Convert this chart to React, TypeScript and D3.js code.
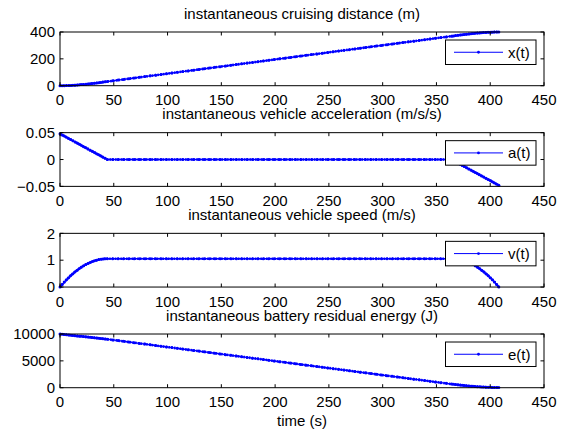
import React from 'react';
import * as d3 from 'd3';

// sample times (s): dense while accelerating / braking, sparser while cruising
const time = [
  0, 2, 4, 6, 8, 10, 12, 14, 16, 18, 20, 22, 24, 26, 28, 30, 32, 34, 36, 38, 40, 42, 44,
  49, 54, 59, 64, 69, 74, 79, 84, 89, 94, 99, 104, 109, 114, 119, 124, 129, 134, 139, 144,
  149, 154, 159, 164, 169, 174, 179, 184, 189, 194, 199, 204, 209, 214, 219, 224, 229, 234,
  239, 244, 249, 254, 259, 264, 269, 274, 279, 284, 289, 294, 299, 304, 309, 314, 319, 324,
  329, 334, 339, 344, 349, 354, 359,
  364, 366, 368, 370, 372, 374, 376, 378, 380, 382, 384, 386, 388, 390, 392, 394, 396, 398,
  400, 402, 404, 406, 408,
];

const distance = [
  0, 0.09, 0.37, 0.82, 1.44, 2.22, 3.14, 4.21, 5.4, 6.72, 8.15, 9.68, 11.31, 13.03, 14.82,
  16.69, 18.62, 20.6, 22.62, 24.68, 26.76, 28.87, 30.98,
  36.26, 41.54, 46.82, 52.1, 57.38, 62.66, 67.94, 73.22, 78.5, 83.78, 89.06, 94.34, 99.62,
  104.9, 110.18, 115.46, 120.74, 126.02, 131.3, 136.58, 141.86, 147.14, 152.42, 157.7,
  162.98, 168.26, 173.54, 178.82, 184.1, 189.38, 194.66, 199.94, 205.22, 210.5, 215.78,
  221.06, 226.34, 231.62, 236.9, 242.18, 247.46, 252.74, 258.02, 263.3, 268.58, 273.86,
  279.14, 284.42, 289.7, 294.98, 300.26, 305.54, 310.82, 316.1, 321.38, 326.66, 331.94,
  337.22, 342.5, 347.78, 353.06, 358.34, 363.62,
  368.9, 371.01, 373.11, 375.2, 377.25, 379.28, 381.26, 383.19, 385.05, 386.85, 388.57,
  390.2, 391.73, 393.16, 394.48, 395.67, 396.73, 397.66, 398.43, 399.05, 399.5, 399.78, 399.88,
];

const acceleration = [
  0.048, 0.04582, 0.04364, 0.04145, 0.03927, 0.03709, 0.03491, 0.03273, 0.03055, 0.02836,
  0.02618, 0.024, 0.02182, 0.01964, 0.01745, 0.01527, 0.01309, 0.01091, 0.00873, 0.00655,
  0.00436, 0.00218, 0,
  0, 0, 0, 0, 0, 0, 0, 0, 0, 0, 0, 0, 0, 0, 0, 0, 0, 0, 0, 0, 0,
  0, 0, 0, 0, 0, 0, 0, 0, 0, 0, 0, 0, 0, 0, 0, 0, 0, 0, 0, 0, 0,
  0, 0, 0, 0, 0, 0, 0, 0, 0, 0, 0, 0, 0, 0, 0, 0, 0, 0, 0, 0, 0,
  0, -0.00218, -0.00436, -0.00655, -0.00873, -0.01091, -0.01309, -0.01527, -0.01745,
  -0.01964, -0.02182, -0.024, -0.02618, -0.02836, -0.03055, -0.03273, -0.03491, -0.03709,
  -0.03927, -0.04145, -0.04364, -0.04582, -0.048,
];

const speed = [
  0, 0.0938, 0.1833, 0.2684, 0.3491, 0.4255, 0.4975, 0.5651, 0.6284, 0.6873, 0.7418, 0.792,
  0.8378, 0.8793, 0.9164, 0.9491, 0.9775, 1.0015, 1.0211, 1.0364, 1.0473, 1.0538, 1.056,
  1.056, 1.056, 1.056, 1.056, 1.056, 1.056, 1.056, 1.056, 1.056, 1.056, 1.056, 1.056, 1.056,
  1.056, 1.056, 1.056, 1.056, 1.056, 1.056, 1.056, 1.056, 1.056, 1.056, 1.056, 1.056, 1.056,
  1.056, 1.056, 1.056, 1.056, 1.056, 1.056, 1.056, 1.056, 1.056, 1.056, 1.056, 1.056, 1.056,
  1.056, 1.056, 1.056, 1.056, 1.056, 1.056, 1.056, 1.056, 1.056, 1.056, 1.056, 1.056, 1.056,
  1.056, 1.056, 1.056, 1.056, 1.056, 1.056, 1.056, 1.056, 1.056, 1.056, 1.056,
  1.056, 1.0538, 1.0473, 1.0364, 1.0211, 1.0015, 0.9775, 0.9491, 0.9164, 0.8793, 0.8378,
  0.792, 0.7418, 0.6873, 0.6284, 0.5651, 0.4975, 0.4255, 0.3491, 0.2684, 0.1833, 0.0938, 0,
];

const energy = [
  10000, 9956, 9912, 9868, 9824, 9780, 9736, 9692, 9648, 9604, 9560, 9516, 9472, 9428, 9384,
  9340, 9296, 9252, 9208, 9164, 9120, 9076, 9032,
  8901, 8771, 8640, 8510, 8379, 8249, 8118, 7988, 7857, 7727, 7596, 7466, 7335, 7205, 7074,
  6944, 6813, 6683, 6552, 6422, 6291, 6161, 6030, 5900, 5769, 5639, 5508, 5378, 5247, 5117,
  4986, 4856, 4725, 4595, 4464, 4334, 4203, 4073, 3942, 3812, 3681, 3551, 3420, 3290, 3159,
  3029, 2898, 2768, 2637, 2507, 2376, 2246, 2115, 1985, 1854, 1724, 1593, 1463, 1332, 1202,
  1071, 941, 810,
  680, 629, 580, 532, 487, 444, 403, 364, 327, 292, 258, 227, 198, 171, 146, 123, 102, 83,
  66, 51, 38, 27, 18,
];

const titles = [
  'instantaneous cruising distance (m)',
  'instantaneous vehicle acceleration (m/s/s)',
  'instantaneous vehicle speed (m/s)',
  'instantaneous battery residual energy (J)',
];
const legendLabels = ['x(t)', 'a(t)', 'v(t)', 'e(t)'];
const series = [distance, acceleration, speed, energy];
const yDomains = [[0, 400], [-0.05, 0.05], [0, 2], [0, 10000]];
const yTicks = [[0, 200, 400], [-0.05, 0, 0.05], [0, 1, 2], [0, 5000, 10000]];
const yTickLabels = [['0', '200', '400'], ['\u22120.05', '0', '0.05'], ['0', '1', '2'], ['0', '5000', '10000']];
const xTicks = [0, 50, 100, 150, 200, 250, 300, 350, 400, 450];

const W = 575;
const H = 437;
const FONT = '"Liberation Sans", Arial, Helvetica, sans-serif';
const BLUE = '#0000ff';

export default function App() {
  const left = 60;
  const right = 544;
  const panelH = 53.7;
  const panelStep = 100.67;
  const tickLen = 3.5;

  const x = d3.scaleLinear().domain([0, 450]).range([left, right]);

  return (
    <svg width={W} height={H} style={{ position: 'absolute', left: 0, top: 0, background: '#fff' }}
      fontFamily={FONT}>
      <rect width={W} height={H} fill="#fff" />
      {series.map((values, k) => {
        const top = 32 + k * panelStep;
        const bottom = top + panelH;
        const y = d3.scaleLinear().domain(yDomains[k]).range([bottom, top]);
        const line = d3.line<number>()
          .x((_, i) => x(time[i]))
          .y(d => y(d));
        const path = line(values) || '';
        const lgX = 445.5;
        const lgY = top + 8;
        const lgW = 90.5;
        const lgH = 24.5;
        return (
          <g key={k}>
            {/* data: thin line + dotted '.' markers */}
            <path d={path} fill="none" stroke={BLUE} strokeWidth={1.4} />
            <path d={path} fill="none" stroke={BLUE} strokeWidth={2.6} strokeDasharray="1.6 1.2" />
            {values.map((d, i) => (
              <circle key={i} cx={x(time[i])} cy={y(d)} r={1.5} fill={BLUE} />
            ))}

            {/* axes box + ticks */}
            <rect x={left} y={top} width={right - left} height={panelH} fill="none" stroke="#000" strokeWidth={1} />
            {xTicks.map(t => (
              <g key={'x' + t}>
                <line x1={x(t)} x2={x(t)} y1={bottom} y2={bottom - tickLen} stroke="#000" />
                <line x1={x(t)} x2={x(t)} y1={top} y2={top + tickLen} stroke="#000" />
                <text x={x(t)} y={bottom + 19.5} fontSize={15} textAnchor="middle" fill="#000">{t}</text>
              </g>
            ))}
            {yTicks[k].map((t, j) => (
              <g key={'y' + j}>
                <line x1={left} x2={left + tickLen} y1={y(t)} y2={y(t)} stroke="#000" />
                <line x1={right} x2={right - tickLen} y1={y(t)} y2={y(t)} stroke="#000" />
                <text x={left - 5} y={y(t) + 5.3} fontSize={15} textAnchor="end" fill="#000">{yTickLabels[k][j]}</text>
              </g>
            ))}

            {/* legend */}
            <rect x={lgX} y={lgY} width={lgW} height={lgH} fill="#fff" stroke="#000" strokeWidth={1} />
            <line x1={lgX + 8.5} x2={lgX + 57.5} y1={lgY + lgH / 2} y2={lgY + lgH / 2} stroke={BLUE} strokeWidth={1} />
            <circle cx={lgX + 33} cy={lgY + lgH / 2} r={1.4} fill={BLUE} />
            <text x={lgX + 62.5} y={lgY + lgH / 2 + 5.3} fontSize={15} fill="#000">{legendLabels[k]}</text>

            {/* title */}
            <text x={(left + right) / 2} y={top - 13.3} fontSize={15} textAnchor="middle" fill="#000">{titles[k]}</text>
          </g>
        );
      })}
      <text x={(left + right) / 2} y={426} fontSize={15} textAnchor="middle" fill="#000">time (s)</text>
    </svg>
  );
}
